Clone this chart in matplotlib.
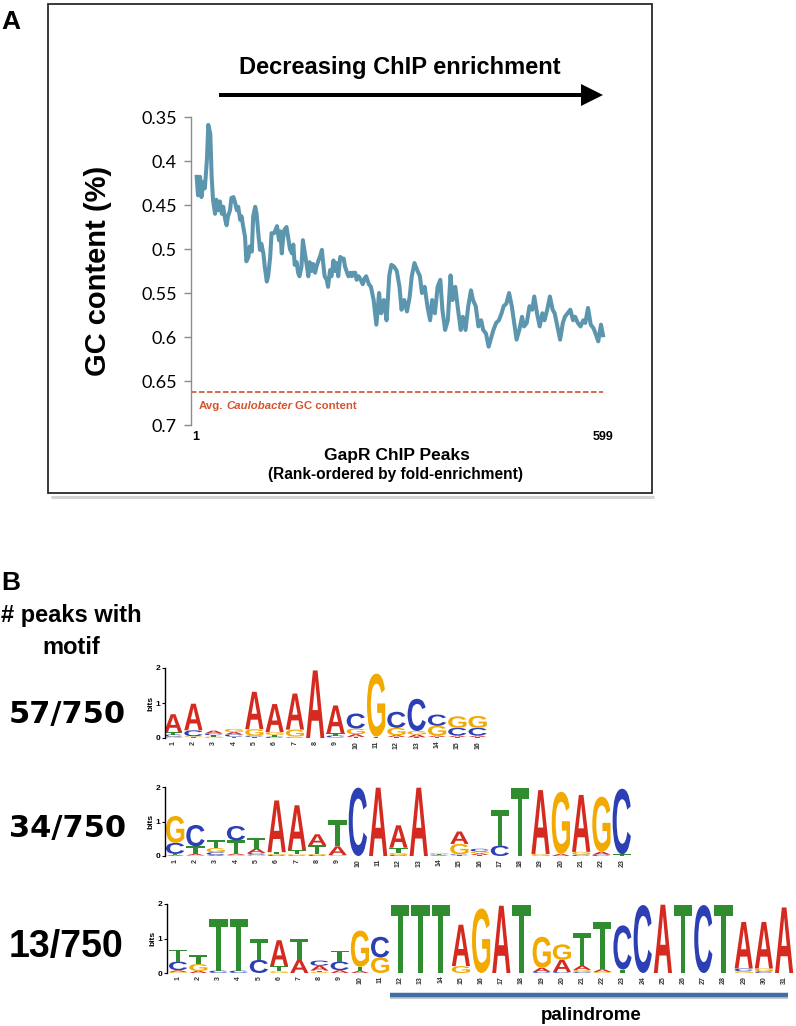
import matplotlib
matplotlib.use('Agg')
import matplotlib.pyplot as plt
from matplotlib.textpath import TextPath
from matplotlib.font_manager import FontProperties
from matplotlib.patches import PathPatch, Rectangle, FancyArrow
from matplotlib.transforms import Affine2D

W, H = 796, 1026

# ---------------- Panel A data ----------------
peak_rank = [
    2, 4, 7, 9, 12, 14, 17, 19, 22, 24,
    26, 29, 31, 34, 36, 39, 41, 44, 46, 48,
    51, 53, 56, 58, 61, 63, 66, 68, 70, 73,
    75, 78, 80, 83, 85, 88, 90, 93, 95, 97,
    100, 102, 105, 107, 110, 112, 116, 120, 123, 125,
    127, 129, 131, 134, 137, 139, 142, 144, 146, 149,
    151, 153, 156, 158, 161, 164, 166, 168, 171, 173,
    176, 178, 181, 183, 186, 188, 190, 193, 195, 198,
    200, 203, 205, 208, 210, 213, 215, 218, 220, 223,
    225, 228, 230, 232, 235, 237, 240, 243, 246, 249,
    251, 255, 258, 262, 266, 270, 273, 277, 281, 285,
    288, 292, 296, 300, 303, 307, 311, 315, 318, 322,
    326, 330, 333, 337, 341, 345, 348, 352, 356, 360,
    363, 367, 371, 375, 378, 382, 386, 390, 393, 397,
    401, 405, 408, 412, 416, 420, 423, 427, 431, 435,
    438, 442, 446, 450, 453, 457, 461, 465, 468, 472,
    476, 480, 483, 487, 491, 495, 498, 502, 506, 510,
    513, 517, 521, 525, 528, 532, 536, 540, 543, 547,
    551, 555, 558, 562, 566, 570, 573, 577, 581, 585,
    588, 592, 596, 599,
]
gc_content = [
    .418, .439, .418, .441, .424, .431, .399, .359, .369, .418,
    .444, .460, .444, .456, .446, .460, .452, .467, .473, .463,
    .456, .442, .441, .446, .456, .452, .467, .463, .473, .486,
    .514, .509, .497, .503, .463, .452, .460, .486, .501, .494,
    .505, .520, .537, .531, .509, .482, .482, .474, .490, .480,
    .505, .488, .478, .475, .490, .500, .505, .495, .518, .515,
    .527, .531, .520, .490, .505, .520, .531, .515, .525, .517,
    .527, .520, .513, .509, .501, .517, .531, .535, .543, .524,
    .531, .513, .525, .516, .531, .509, .511, .511, .520, .527,
    .531, .527, .531, .527, .527, .535, .531, .535, .540, .533,
    .531, .540, .543, .558, .586, .550, .573, .558, .581, .530,
    .518, .520, .525, .543, .569, .558, .571, .554, .531, .516,
    .524, .531, .550, .543, .565, .581, .558, .573, .543, .535,
    .569, .592, .581, .530, .558, .543, .569, .592, .577, .592,
    .565, .547, .558, .565, .588, .581, .592, .596, .611, .600,
    .592, .584, .581, .573, .565, .562, .550, .565, .581, .603,
    .592, .577, .588, .584, .565, .569, .554, .573, .588, .573,
    .581, .569, .554, .569, .573, .588, .603, .584, .577, .573,
    .569, .581, .577, .584, .588, .581, .584, .567, .586, .590,
    .596, .605, .586, .598,
]
avg_gc = 0.6625
y_ticks = [0.35, 0.40, 0.45, 0.50, 0.55, 0.60, 0.65, 0.70]
y_tick_labels = ['0.35', '0.4', '0.45', '0.5', '0.55', '0.6', '0.65', '0.7']
x_end_ranks = [1, 599]
x_end_labels = ['1', '599']

# ---------------- Panel B data ----------------
motif_counts = ['57/750', '34/750', '13/750']

logo1_A = [.52, .76, .08, .07, 1.07, .80, 1.03, 1.93, .80, .08, 0, .05, .08, .04, .04, .04]
logo1_C = [.06, .17, .05, .06, .04, .04, .02, 0, .05, .43, 0, .46, .92, .32, .22, .22]
logo1_G = [.04, .03, .04, .09, .18, .08, .20, 0, .02, .16, 1.80, .21, .10, .28, .33, .34]
logo1_T = [.06, .02, .04, .04, .03, .05, .02, 0, .06, .03, .04, .03, .02, .03, .03, .03]

logo2_A = [.03, .04, .03, .04, .12, 1.50, 1.30, .32, .25, 0, 1.98, .65, 1.98, .02, .36, .05, 0, 0, 1.85, .06, 1.65, .08, 0]
logo2_C = [.32, .62, .08, .42, .05, .03, .02, .03, .01, 1.98, 0, .03, 0, .02, .03, .08, .30, 0, 0, 0, .04, .04, 1.90]
logo2_G = [.78, .02, .12, .03, .04, .03, .03, .03, .02, 0, 0, .06, 0, .03, .30, .05, 0, 0, .06, 1.80, .08, 1.60, 0]
logo2_T = [.03, .22, .22, .38, .30, .05, .12, .25, .75, 0, 0, .15, 0, .02, .02, .03, 1.02, 1.98, 0, 0, 0, 0, .05]

logo3_A = [.05, .06, 0, 0, 0, .75, .38, .14, .08, .06, 0, 0, 0, 0, 1.20, 0, 1.95, 0, .12, .35, .12, .08, 0, 0, 1.98, 0, 0, 0, 1.35, 1.35, 1.90]
logo3_C = [.25, 0, .07, .07, .38, 0, 0, .15, .25, 0, .60, 0, 0, 0, 0, 0, 0, 0, .03, .03, .03, 0, 1.28, 1.97, 0, 0, 1.97, 0, .08, .05, 0]
logo3_G = [.03, .20, 0, 0, 0, .05, 0, .03, 0, 1.05, .45, 0, 0, 0, .20, 1.87, 0, 0, .90, .45, .06, .03, 0, 0, 0, 0, 0, 0, .05, .08, 0]
logo3_T = [.35, .25, 1.50, 1.50, .60, .15, .62, .04, .32, .12, 0, 1.98, 1.98, 1.98, 0, 0, 0, 1.98, 0, 0, .95, 1.38, .10, 0, 0, 1.98, 0, 1.98, 0, 0, 0]

# ---------------- styling ----------------
LINE_COLOR = '#5b96ae'
RED = '#d5532d'
LETTER_COLORS = {'A': '#d42a20', 'C': '#2c3fb5', 'G': '#f2aa00', 'T': '#2f8c2f'}
SANS = 'Liberation Sans'

fig = plt.figure(figsize=(W / 100, H / 100), dpi=100)


def px_axes(left, top, right, bottom):
    a = fig.add_axes([left / W, 1 - bottom / H, (right - left) / W, (bottom - top) / H])
    a.patch.set_visible(False)
    return a


# overlay in pixel coordinates for decorations
ov = fig.add_axes([0, 0, 1, 1])
ov.set_xlim(0, W)
ov.set_ylim(H, 0)
ov.axis('off')

# ---------- Panel A ----------
ov.add_patch(Rectangle((48, 4), 604, 489, fill=False, ec='#2a2a2a', lw=1.3))
ov.plot([51, 654], [496.5, 496.5], color='#d4d4d4', lw=2.2, solid_capstyle='butt')
ov.text(1, 29, 'A', fontsize=19, fontweight='bold', family=SANS, va='baseline')
ov.text(400, 74, 'Decreasing ChIP enrichment', fontsize=17, fontweight='bold',
        family=SANS, ha='center', va='baseline')
ov.add_patch(FancyArrow(219, 95, 384, 0, width=4, head_width=22, head_length=22,
                        length_includes_head=True, color='black', lw=0))

ax = px_axes(191, 117, 603, 425)
ax.plot(peak_rank, gc_content, color=LINE_COLOR, lw=2.9, solid_joinstyle='round', clip_on=False)
ax.axhline(avg_gc, color=RED, lw=1.2, ls=(0, (3.3, 1.5)))
ax.set_xlim(-6.35, 599)
ax.set_ylim(0.70, 0.35)
for s in ['top', 'right', 'bottom']:
    ax.spines[s].set_visible(False)
ax.spines['left'].set_color('#8c8c8c')
ax.spines['left'].set_linewidth(1)
ax.set_yticks(y_ticks)
ax.set_yticklabels(y_tick_labels, family='Lato', fontsize=13)
ax.tick_params(axis='y', length=5, width=1, color='#8c8c8c', pad=5)
ax.set_xticks(x_end_ranks)
ax.set_xticklabels(x_end_labels, family=SANS, fontsize=9, fontweight='bold')
ax.tick_params(axis='x', length=0, pad=4)
ax.set_ylabel('GC content (%)', family=SANS, fontsize=21, fontweight='bold', va='center')
ax.yaxis.set_label_coords(-0.226, 0.5)

renderer = fig.canvas.get_renderer()
t1 = ov.text(199, 406, 'Avg.', color=RED, fontsize=8.2, fontweight='bold', family=SANS, va='center')
x_next = t1.get_window_extent(renderer).x1 + 3
t2 = ov.text(x_next, 406, 'Caulobacter', color=RED, fontsize=8.2, fontweight='bold',
             fontstyle='italic', family=SANS, va='center')
x_next = t2.get_window_extent(renderer).x1 + 3
ov.text(x_next, 406, 'GC content', color=RED, fontsize=8.2, fontweight='bold', family=SANS, va='center')

ov.text(397, 460, 'GapR ChIP Peaks', fontsize=12.5, fontweight='bold', family=SANS,
        ha='center', va='baseline')
ov.text(396, 479, '(Rank-ordered by fold-enrichment)', fontsize=11.2, fontweight='bold',
        family=SANS, ha='center', va='baseline')

# ---------- Panel B ----------
ov.text(1, 590, 'B', fontsize=19, fontweight='bold', family=SANS, va='baseline')
ov.text(71, 622, '# peaks with', fontsize=17, fontweight='bold', family=SANS, ha='center', va='baseline')
ov.text(71, 654, 'motif', fontsize=17, fontweight='bold', family=SANS, ha='center', va='baseline')

ov.text(9, 723, motif_counts[0], fontsize=22, fontweight='bold', family='DejaVu Sans', va='baseline')
ov.text(9, 837, motif_counts[1], fontsize=22, fontweight='bold', family='DejaVu Sans', va='baseline')
ov.text(9, 957, motif_counts[2], fontsize=27, fontweight='bold', family=SANS, va='baseline')

logo_font = FontProperties(family=SANS, weight='bold')


def draw_letter(axl, letter, x, y0, h, w=0.9):
    tp = TextPath((0, 0), letter, size=1, prop=logo_font)
    bb = tp.get_extents()
    tr = (Affine2D().translate(-bb.x0, -bb.y0)
          .scale(w / bb.width, h / bb.height)
          .translate(x - w / 2, y0))
    axl.add_patch(PathPatch(tr.transform_path(tp), fc=LETTER_COLORS[letter], ec='none', lw=0))


def draw_logo(axl, A, C, G, T, xleft):
    n = len(A)
    for i in range(n):
        col = sorted(zip([A[i], C[i], G[i], T[i]], 'ACGT'))
        y = 0.0
        for h, letter in col:
            if h > 0:
                draw_letter(axl, letter, i + 1, y, h)
                y += h
    axl.set_xlim(xleft, n + 0.5)
    axl.set_ylim(0, 2)
    for s in ['top', 'right', 'bottom']:
        axl.spines[s].set_visible(False)
    axl.spines['left'].set_linewidth(1)
    axl.set_yticks([0, 1, 2])
    axl.set_yticklabels(['0', '1', '2'], fontsize=6, fontweight='bold', family=SANS)
    axl.tick_params(axis='y', length=2.5, width=0.8, pad=1)
    axl.set_xticks(range(1, n + 1))
    axl.set_xticklabels([str(i) for i in range(1, n + 1)], rotation=90, fontsize=5,
                        fontweight='bold', family=SANS, color='#333333')
    axl.tick_params(axis='x', length=0, pad=2)
    axl.set_ylabel('bits', fontsize=6, fontweight='bold', family=SANS, labelpad=1)


sp = 20.3
ax1 = px_axes(165, 668, 165 + (16.5 - 0.6) * sp, 738)
draw_logo(ax1, logo1_A, logo1_C, logo1_G, logo1_T, 0.6)

ax2 = px_axes(165, 787, 165 + (23.5 - 0.5) * sp, 856)
draw_logo(ax2, logo2_A, logo2_C, logo2_G, logo2_T, 0.5)

sp3 = 20.2
ax3 = px_axes(167, 904, 167 + (31.5 - 0.45) * sp3, 973)
draw_logo(ax3, logo3_A, logo3_C, logo3_G, logo3_T, 0.45)

ov.plot([390, 788], [998, 998], color='#c8c8c8', lw=1.5, solid_capstyle='butt')
ov.plot([390, 788], [995, 995], color='#3f6fa6', lw=3.2, solid_capstyle='butt')
ov.text(591, 1020, 'palindrome', fontsize=13.5, fontweight='bold', family=SANS,
        ha='center', va='baseline')

fig.savefig('out.png', dpi=100)
